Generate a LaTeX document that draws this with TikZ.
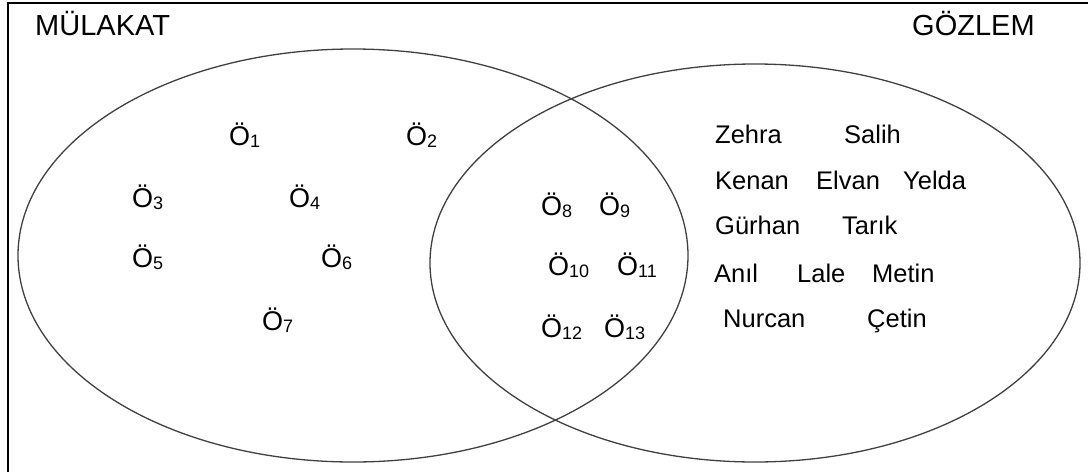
\documentclass[tikz,border=0pt]{standalone}
\usepackage{fontspec}
\setmainfont{Liberation Sans}
\newcommand\Osub[1]{Ö\raisebox{-2.5pt}{\fontsize{18}{18}\selectfont #1}}
\begin{document}
\begin{tikzpicture}[x=1pt,y=1pt,
  framestyle/.style={line width=1.6pt,black},
  setline/.style={line width=1.3pt,black!75},
  ttlbox/.style={inner sep=0pt,anchor=base west,font=\fontsize{29}{33}\selectfont},
  studbox/.style={inner sep=0pt,anchor=base west,font=\fontsize{27}{31}\selectfont},
  namebox/.style={inner sep=0pt,anchor=base west,font=\fontsize{25.5}{30}\selectfont}]
\useasboundingbox (0,0) rectangle (1088,-472);
\coordinate (fa) at (8,-472);
\coordinate (fb) at (8,-3);
\coordinate (fc) at (1088,-3);
\draw[framestyle] (fa) -- (fb) -- (fc);
% sets
\draw[setline] (353,-255.5) ellipse [x radius=335, y radius=206.5];
\draw[setline] (755,-263) ellipse [x radius=325, y radius=199];
% titles
\node[ttlbox] (mul) at (35,-35) {MÜLAKAT};
\node[ttlbox] (goz) at (912,-35) {GÖZLEM};
% students
\node[studbox] (o1) at (229,-145) {\Osub{1}};
\node[studbox] (o2) at (406,-145) {\Osub{2}};
\node[studbox] (o3) at (132,-207) {\Osub{3}};
\node[studbox] (o4) at (289,-207) {\Osub{4}};
\node[studbox] (o5) at (132,-267) {\Osub{5}};
\node[studbox] (o6) at (321,-267) {\Osub{6}};
\node[studbox] (o7) at (262,-330) {\Osub{7}};
\node[studbox] (o8) at (541,-215) {\Osub{8}};
\node[studbox] (o9) at (599,-215) {\Osub{9}};
\node[studbox] (o10) at (548,-275) {\Osub{10}};
\node[studbox] (o11) at (617,-275) {\Osub{11}};
\node[studbox] (o12) at (541,-337) {\Osub{12}};
\node[studbox] (o13) at (604,-337) {\Osub{13}};
% names
\node[namebox] (zehra) at (715,-143) {Zehra};
\node[namebox] (salih) at (844,-143) {Salih};
\node[namebox] (kenan) at (715,-189) {Kenan};
\node[namebox] (elvan) at (816,-189) {Elvan};
\node[namebox] (yelda) at (903,-189) {Yelda};
\node[namebox] (gurhan) at (715,-234) {Gürhan};
\node[namebox] (tarik) at (842,-234) {Tarık};
\node[namebox] (anil) at (714,-282) {Anıl};
\node[namebox] (lale) at (797,-282) {Lale};
\node[namebox] (metin) at (872,-282) {Metin};
\node[namebox] (nurcan) at (723,-327) {Nurcan};
\node[namebox] (cetin) at (867,-327) {Çetin};
\end{tikzpicture}
\end{document}
